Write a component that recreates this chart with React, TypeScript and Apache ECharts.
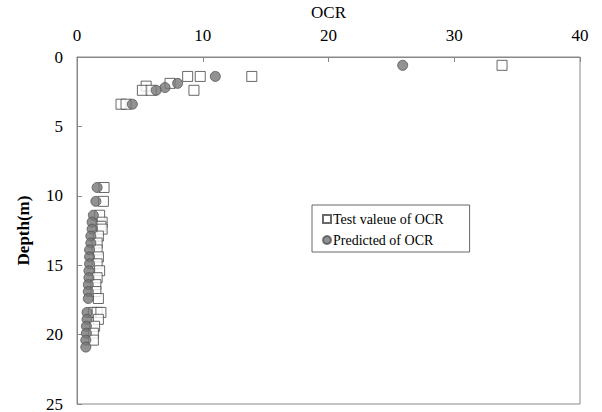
import React, { useEffect, useRef } from "react";
import * as echarts from "echarts";

const xTicks = [0, 10, 20, 30, 40];
const yTicks = [0, 5, 10, 15, 20, 25];

// [OCR, depth]
const testValues: number[][] = [
  [33.8, 0.6],
  [8.8, 1.4], [9.8, 1.4], [13.9, 1.4],
  [7.4, 1.9],
  [9.3, 2.4],
  [5.5, 2.1], [5.2, 2.4], [5.9, 2.4],
  [3.5, 3.4], [3.9, 3.4],
  [2.15, 9.4], [2.1, 10.4],
  [1.8, 11.4], [2.0, 11.9], [1.9, 12.2], [2.0, 12.4], [1.7, 12.9],
  [1.6, 13.4], [1.6, 13.9], [1.7, 14.4], [1.6, 14.9], [1.8, 15.4],
  [1.6, 15.9], [1.5, 16.4], [1.5, 16.9], [1.7, 17.4],
  [1.3, 18.4], [1.6, 18.4], [1.9, 18.4], [1.7, 18.9], [1.4, 19.4],
  [1.3, 19.9], [1.3, 20.4],
];

const predicted: number[][] = [
  [25.9, 0.6], [11.0, 1.4], [8.0, 1.9], [7.0, 2.2], [6.3, 2.4], [4.4, 3.4],
  [1.6, 9.4], [1.5, 10.4],
  [1.3, 11.4], [1.2, 11.9], [1.2, 12.4], [1.1, 12.9], [1.1, 13.4],
  [1.0, 13.9], [1.0, 14.4], [1.0, 14.9], [0.95, 15.4], [0.95, 15.9],
  [0.9, 16.4], [0.9, 16.9], [0.9, 17.4],
  [0.8, 18.4], [0.8, 18.9], [0.75, 19.4], [0.75, 19.9], [0.7, 20.4], [0.7, 20.9],
];

const FONT = "Liberation Serif, DejaVu Serif, serif";

export default function App() {
  const ref = useRef<HTMLDivElement>(null);
  useEffect(() => {
    if (!ref.current) return;
    const chart = echarts.init(ref.current, null, { renderer: "svg" });
    chart.setOption({
      animation: false,
      textStyle: { fontFamily: FONT },
      grid: {
        left: 77, top: 57, right: 22, bottom: 8,
        outerBoundsMode: "none",
        containLabel: false,
        show: true, borderColor: "#888", borderWidth: 1,
      },
      xAxis: {
        type: "value",
        position: "top",
        min: xTicks[0],
        max: xTicks[xTicks.length - 1],
        interval: 10,
        name: "OCR",
        nameLocation: "middle",
        nameGap: 36,
        nameTextStyle: { fontFamily: FONT, fontSize: 17, color: "#000" },
        axisLine: { lineStyle: { color: "#888" } },
        axisTick: { inside: true, length: 5, lineStyle: { color: "#888" } },
        axisLabel: { fontFamily: FONT, fontSize: 17, color: "#000", margin: 13 },
        splitLine: { show: false },
      },
      yAxis: {
        type: "value",
        inverse: true,
        min: yTicks[0],
        max: yTicks[yTicks.length - 1],
        interval: 5,
        name: "Depth(m)",
        nameLocation: "middle",
        nameGap: 45,
        nameTextStyle: { fontFamily: FONT, fontSize: 17, color: "#000", fontWeight: "bold" },
        axisLine: { lineStyle: { color: "#888" } },
        axisTick: { inside: true, length: 5, lineStyle: { color: "#888" } },
        axisLabel: { fontFamily: FONT, fontSize: 17, color: "#000", margin: 14 },
        splitLine: { show: false },
      },
      legend: {
        orient: "vertical",
        left: 312,
        top: 205,
        width: 160,
        padding: [7, 26, 5, 10],
        itemGap: 7,
        itemWidth: 8,
        itemHeight: 8,
        borderColor: "#666",
        borderWidth: 1,
        textStyle: { fontFamily: FONT, fontSize: 14, color: "#000", padding: [0, 0, 0, -3] },
        data: [
          { name: "Test valeue of OCR", icon: "rect" },
          { name: "Predicted of OCR", icon: "circle" },
        ],
      },
      series: [
        {
          name: "Test valeue of OCR",
          type: "scatter",
          symbol: "rect",
          symbolSize: 10,
          itemStyle: { color: "#fff", borderColor: "#444", borderWidth: 1 },
          data: testValues,
        },
        {
          name: "Predicted of OCR",
          type: "scatter",
          symbol: "circle",
          symbolSize: 10,
          itemStyle: { color: "#777", borderColor: "#555", borderWidth: 1 },
          data: predicted,
        },
      ],
    });
    return () => chart.dispose();
  }, []);
  return (
    <div
      ref={ref}
      style={{ position: "absolute", left: 0, top: 0, width: 602, height: 412 }}
    />
  );
}
